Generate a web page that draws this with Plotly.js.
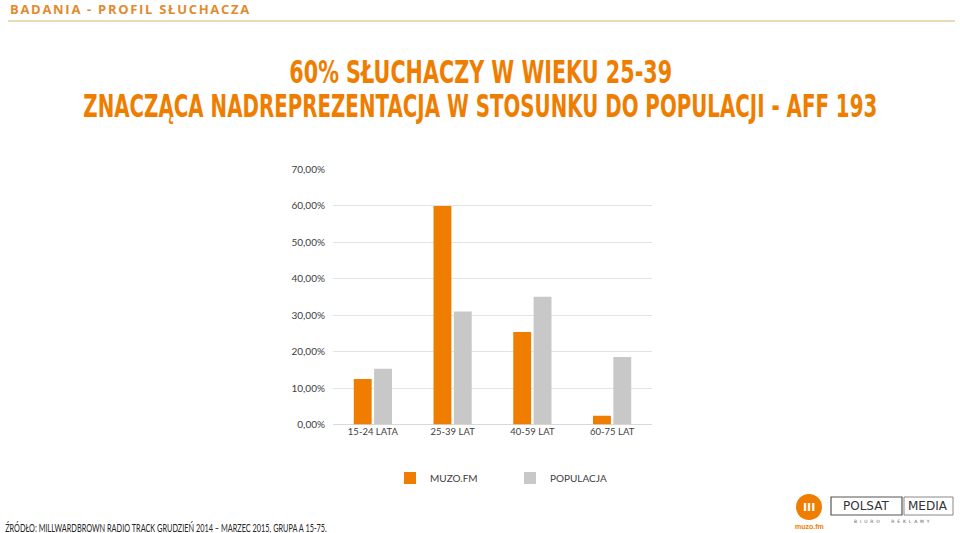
<!DOCTYPE html>
<html>
<head>
<meta charset="utf-8">
<script src="https://cdn.plot.ly/plotly-3.0.1.min.js"></script>
<style>
  html, body { margin: 0; padding: 0; background: #fff; }
  #chart { width: 960px; height: 533px; }
</style>
</head>
<body>
<div id="chart"></div>
<script>
// age groups and shares
const categories = ['15-24 LATA', '25-39 LAT', '40-59 LAT', '60-75 LAT'];
const muzoValues = [0.125, 0.60, 0.254, 0.024];
const populacjaValues = [0.153, 0.310, 0.351, 0.185];
const tickValues = [0, 0.1, 0.2, 0.3, 0.4, 0.5, 0.6, 0.7];
const tickLabels = ['0,00%', '10,00%', '20,00%', '30,00%', '40,00%', '50,00%', '60,00%', '70,00%'];

const ORANGE = '#ee7d00';
const GREY = '#c8c8c8';
const W = 960, H = 533;
const SMALL_FONT = 'Lato, Liberation Sans, sans-serif';

// pixel helpers for paper coords (margins are zero, so paper == page)
function px(x) { return x / W; }
function py(y) { return 1 - y / H; }

var trace1 = {
    x: categories,
    y: muzoValues,
    type: 'bar',
    name: 'MUZO.FM',
    marker: {color: ORANGE},
    hoverinfo: 'none'
};

var trace2 = {
    x: categories,
    y: populacjaValues,
    type: 'bar',
    name: 'POPULACJA',
    marker: {color: GREY},
    hoverinfo: 'none'
};

const layout = {
    width: W,
    height: H,
    margin: {l: 0, r: 0, t: 0, b: 0},
    paper_bgcolor: '#ffffff',
    plot_bgcolor: '#ffffff',
    font: {family: SMALL_FONT, color: '#404040', size: 10},
    barmode: 'group',
    bargap: 0.49,
    bargroupgap: 0.12,
    xaxis: {
        domain: [px(333), px(652)],
        anchor: 'y',
        showgrid: false,
        zeroline: false,
        showline: false,
        ticks: '',
        tickfont: {family: SMALL_FONT, size: 9.5, color: '#404040'},
        automargin: false
    },
    yaxis: {
        domain: [py(424.5), py(169.5)],
        anchor: 'x',
        range: [0, 0.7],
        tickvals: tickValues,
        ticktext: tickLabels,
        showgrid: true,
        gridcolor: '#e3e3e3',
        gridwidth: 1,
        zeroline: true,
        zerolinecolor: '#d9d9d9',
        ticks: '',
        ticklabelstandoff: 7,
        tickfont: {family: SMALL_FONT, size: 10, color: '#404040'},
        automargin: false
    },
    showlegend: true,
    legend: {
        orientation: 'h',
        x: px(390),
        xanchor: 'left',
        y: py(478),
        yanchor: 'middle',
        entrywidth: 75,
        entrywidthmode: 'pixels',
        font: {family: SMALL_FONT, size: 10, color: '#404040'},
        bgcolor: 'rgba(0,0,0,0)',
        traceorder: 'normal'
    },
    shapes: [
        // header underline
        {type: 'line', xref: 'paper', yref: 'paper', x0: px(8), x1: px(955), y0: py(21), y1: py(21),
         line: {color: '#e2cf9f', width: 1.5}},
        // muzo.fm logo circle
        {type: 'circle', xref: 'paper', yref: 'paper', x0: px(796), x1: px(822), y0: py(520), y1: py(494),
         fillcolor: ORANGE, line: {width: 0}},
        // polsat media boxes
        {type: 'rect', xref: 'paper', yref: 'paper', x0: px(831), x1: px(902), y0: py(515), y1: py(497),
         line: {color: '#555555', width: 1.2}},
        {type: 'rect', xref: 'paper', yref: 'paper', x0: px(904), x1: px(953), y0: py(515), y1: py(497),
         line: {color: '#888888', width: 1}}
    ],
    annotations: [
        {text: 'BADANIA - PROFIL SŁUCHACZA', xref: 'paper', yref: 'paper', x: px(8), y: py(9),
         xanchor: 'left', yanchor: 'middle', showarrow: false,
         font: {family: 'Open Sans, Liberation Sans, sans-serif', size: 13, color: '#e28a2e', weight: 700}},
        {text: '60% SŁUCHACZY W WIEKU 25-39', xref: 'paper', yref: 'paper', x: px(480.5), y: py(72),
         xanchor: 'center', yanchor: 'middle', showarrow: false,
         font: {family: 'DejaVu Sans, sans-serif', size: 32, color: ORANGE, weight: 700}},
        {text: 'ZNACZĄCA NADREPREZENTACJA W STOSUNKU DO POPULACJI - AFF 193', xref: 'paper', yref: 'paper', x: px(480), y: py(106),
         xanchor: 'center', yanchor: 'middle', showarrow: false,
         font: {family: 'DejaVu Sans, sans-serif', size: 32, color: ORANGE, weight: 700}},
        {text: 'ŹRÓDŁO: MILLWARDBROWN RADIO TRACK GRUDZIEŃ 2014 – MARZEC 2015, GRUPA A 15-75.', xref: 'paper', yref: 'paper',
         x: px(3), y: py(527), xanchor: 'left', yanchor: 'middle', showarrow: false,
         font: {family: SMALL_FONT, size: 10.5, color: '#262626'}},
        {text: 'III', xref: 'paper', yref: 'paper', x: px(809), y: py(507), xanchor: 'center', yanchor: 'middle',
         showarrow: false, font: {family: 'DejaVu Sans, sans-serif', size: 11, color: '#ffffff', weight: 700}},
        {text: 'muzo.fm', xref: 'paper', yref: 'paper', x: px(809), y: py(526), xanchor: 'center', yanchor: 'middle',
         showarrow: false, font: {family: 'Liberation Sans, sans-serif', size: 7, color: ORANGE, weight: 700}},
        {text: 'POLSAT', xref: 'paper', yref: 'paper', x: px(866), y: py(506), xanchor: 'center', yanchor: 'middle',
         showarrow: false, font: {family: 'DejaVu Sans, sans-serif', size: 12, color: '#333333'}},
        {text: 'MEDIA', xref: 'paper', yref: 'paper', x: px(928), y: py(506), xanchor: 'center', yanchor: 'middle',
         showarrow: false, font: {family: 'DejaVu Sans, sans-serif', size: 12, color: '#333333'}},
        {text: 'B  I  U  R  O        R  E  K  L  A  M  Y', xref: 'paper', yref: 'paper', x: px(892), y: py(521),
         xanchor: 'center', yanchor: 'middle', showarrow: false,
         font: {family: 'DejaVu Sans, sans-serif', size: 4.5, color: '#666666'}}
    ]
};

function annText(index){
    return document.querySelector('#chart .annotation[data-index="' + index + '"] text.annotation-text');
}

// squeeze an annotation's text to a target width (the titles use a condensed face in the original)
function fitWidth(index, target, anchor){
    let t = annText(index);
    if (!t) return;
    let b = t.getBBox();
    let s = target / b.width;
    let cx = anchor === 'left' ? b.x : b.x + b.width / 2;
    t.setAttribute('transform', 'translate(' + cx + ',0) scale(' + s + ',1) translate(' + (-cx) + ',0)');
}

// spread the header letters but keep its left edge where it was
function spreadLetters(index, spacing){
    let t = annText(index);
    if (!t) return;
    let x0 = t.getBBox().x;
    t.setAttribute('letter-spacing', spacing);
    let x1 = t.getBBox().x;
    t.setAttribute('transform', 'translate(' + (x0 - x1) + ',0)');
}

Plotly.newPlot('chart', [trace1, trace2], layout, {staticPlot: true, displayModeBar: false}).then(function(){
    spreadLetters(0, '1.7px');
    fitWidth(1, 383, 'center');
    fitWidth(2, 794, 'center');
    fitWidth(3, 322, 'left');
});
</script>
</body>
</html>
